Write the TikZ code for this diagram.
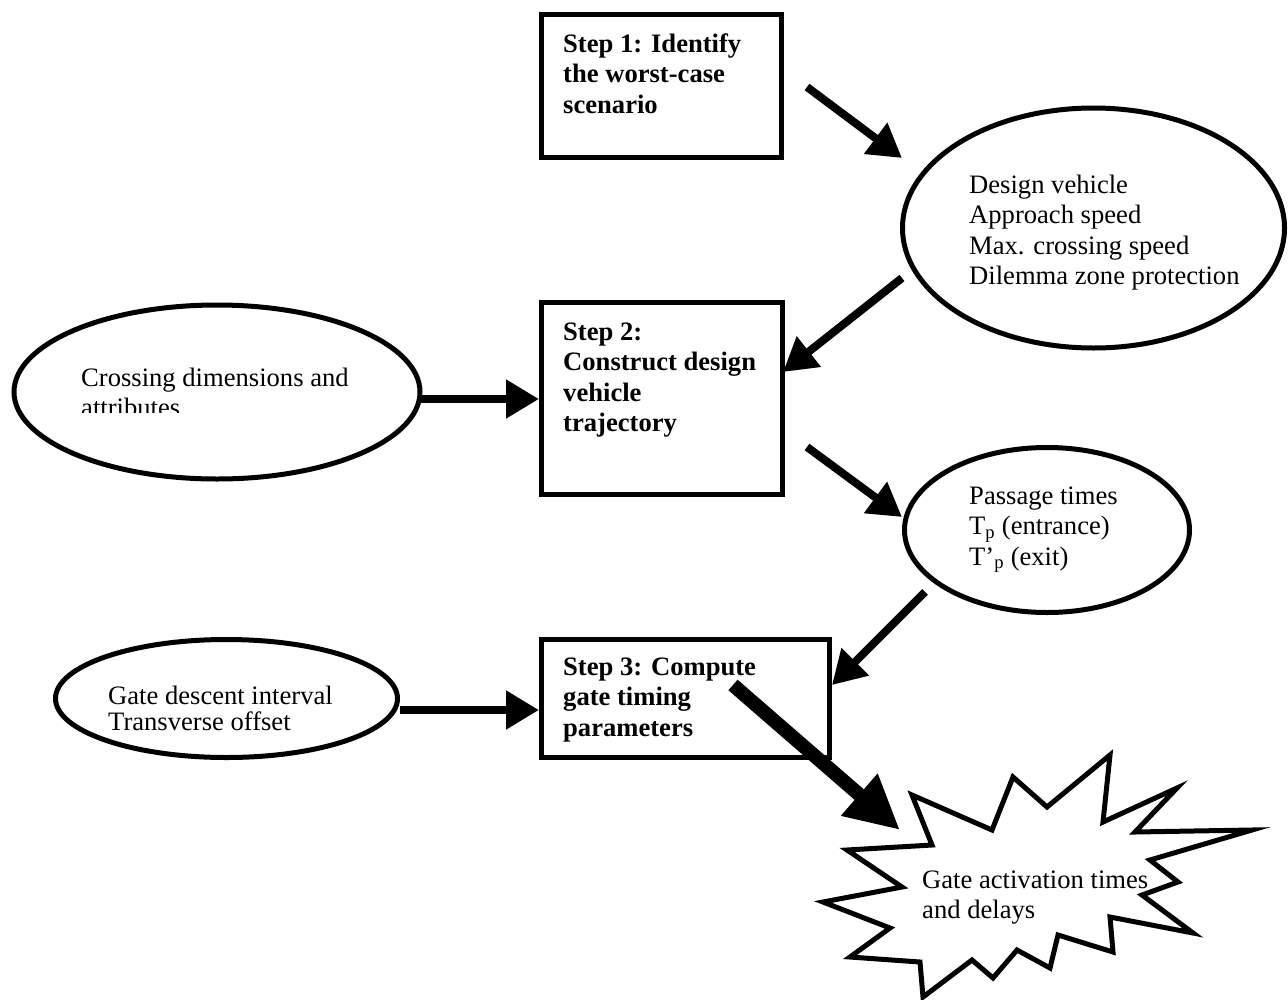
\documentclass[tikz,border=0pt]{standalone}
\usepackage{fontspec}
\setmainfont{Liberation Serif}
\usetikzlibrary{arrows.meta,shapes.geometric}
\newcommand{\stackl}[1]{\begin{tabular}[t]{@{}l@{}}#1\end{tabular}}
\begin{document}
\begin{tikzpicture}[x=1pt,y=-1pt,
  boxshape/.style={draw,line width=5pt,rectangle,inner sep=0pt},
  ovalshape/.style={draw,line width=5pt,ellipse,inner sep=0pt},
  txt/.style={anchor=base west,inner sep=0pt,font=\fontsize{26.6}{30.5}\selectfont},
  boldtxt/.style={anchor=base west,inner sep=0pt,font=\fontsize{26.6}{30.5}\selectfont\bfseries},
  flow/.style={line width=8pt,-{Triangle[length=33pt,width=37pt]}},
  bigflow/.style={line width=14pt,-{Triangle[length=54pt,width=52pt]}},
  burst/.style={draw,line width=5pt,line join=miter,fill=white}
]
\useasboundingbox (0,0) rectangle (1288,999);

% Step boxes
\node[boxshape,minimum width=240pt,minimum height=143pt] (s1) at (661.5,86) {};
\node[boldtxt] (s1t) at (563,52) {\stackl{Step 1: Identify\\the worst-case\\scenario}};

\node[boxshape,minimum width=241pt,minimum height=192pt] (s2) at (662,398.5) {};
\node[boldtxt] (s2t) at (563,340) {\stackl{Step 2:\\Construct design\\vehicle\\trajectory}};

\node[boxshape,minimum width=288pt,minimum height=118pt] (s3) at (685.5,698.5) {};
\node[boldtxt] (s3t) at (563,675) {\stackl{Step 3: Compute\\gate timing\\parameters}};

% Ellipses
\node[ovalshape,minimum width=382pt,minimum height=240pt] (e1) at (1093.5,228) {};
\node[txt] (e1t) at (969,193) {\stackl{Design vehicle\\Approach speed\\Max. crossing speed\\Dilemma zone protection}};

\node[ovalshape,minimum width=406pt,minimum height=174pt] (e2) at (217,392) {};
\begin{scope}
  \clip (0,0) rectangle (700,412);
  \node[txt] (e2t) at (81,386) {\stackl{Crossing dimensions and\\attributes}};
\end{scope}

\node[ovalshape,minimum width=285pt,minimum height=165pt] (e3) at (1047,530) {};
\node[txt] (e3t) at (969,504) {\stackl{Passage times\\T\textsubscript{p} (entrance)\\T’\textsubscript{p} (exit)}};

\node[ovalshape,minimum width=342pt,minimum height=118pt] (e4) at (226.5,698.5) {};
\node[txt,font=\fontsize{26.6}{26}\selectfont] (e4t) at (108,704) {\stackl{Gate descent interval\\Transverse offset}};

% Starburst
\draw[burst] (912,795) -- (932,845) -- (847,850) -- (902,887) -- (823,902) -- (890,928)
  -- (850,957) -- (920,962) -- (923,997) -- (972,960) -- (993,978) -- (1017,950)
  -- (1050,968) -- (1058,935) -- (1113,952) -- (1110,917) -- (1193,933) -- (1142,895)
  -- (1178,882) -- (1150,860) -- (1252,830) -- (1135,832) -- (1177,788) -- (1103,822)
  -- (1110,755) -- (1047,807) -- (1013,777) -- (992,830) -- cycle;
\node[txt] (bt) at (922,888) {\stackl{Gate activation times\\and delays}};

% Arrow end points
\coordinate (a1s) at (807,87);   \coordinate (a1e) at (902,158);
\coordinate (a2s) at (902,278);  \coordinate (a2e) at (783,372);
\coordinate (a3s) at (421,399);  \coordinate (a3e) at (539,399);
\coordinate (a4s) at (807,447);  \coordinate (a4e) at (902,517);
\coordinate (a5s) at (925,592);  \coordinate (a5e) at (832,685);
\coordinate (a6s) at (400,710);  \coordinate (a6e) at (539,710);
\coordinate (a7s) at (733,685);  \coordinate (a7e) at (900,830);

\draw[flow] (a1s) -- (a1e);
\draw[flow] (a2s) -- (a2e);
\draw[flow] (a3s) -- (a3e);
\draw[flow] (a4s) -- (a4e);
\draw[flow] (a5s) -- (a5e);
\draw[flow] (a6s) -- (a6e);
\draw[bigflow] (a7s) -- (a7e);
\end{tikzpicture}
\end{document}
